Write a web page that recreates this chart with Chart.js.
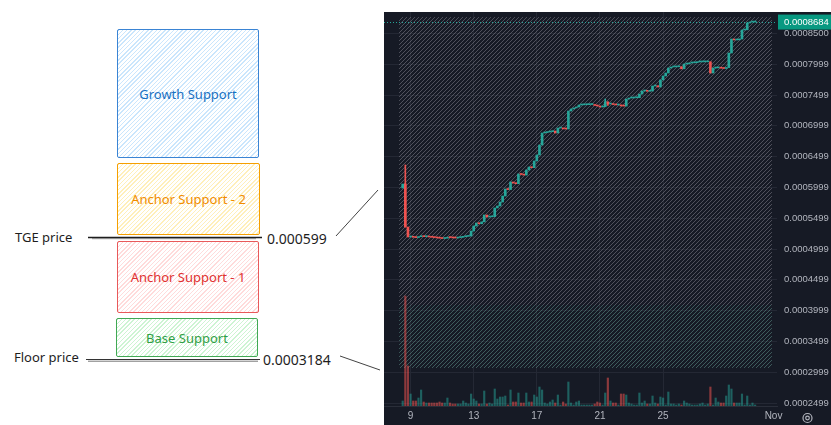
<!DOCTYPE html>
<html>
<head>
<meta charset="utf-8">
<script src="https://cdn.jsdelivr.net/npm/chart.js@4.4.1/dist/chart.umd.min.js"></script>
<style>
html,body{margin:0;padding:0;background:#fff;width:831px;height:425px;overflow:hidden;font-family:"Noto Sans",sans-serif;}
.box{position:absolute;box-sizing:border-box;border:1.6px solid;border-radius:2px;display:flex;align-items:center;justify-content:center;font-size:13px;}
.lbl{position:absolute;color:#1e1e1e;white-space:nowrap;line-height:18px;}
#lines{position:absolute;left:0;top:0;}
#wrap{position:absolute;left:384px;top:12px;width:447px;height:413px;background:#161a25;}
</style>
</head>
<body>
<div class="box" style="left:117px;top:29px;width:142px;height:129px;border-color:#3a84d4;color:#1971c2;
  background:repeating-linear-gradient(135deg,rgba(150,205,250,.5) 0 1px,transparent 1px 3px);">Growth Support</div>
<div class="box" style="left:117px;top:163px;width:143px;height:72px;border-color:#f59f00;color:#f08c00;
  background:repeating-linear-gradient(135deg,rgba(255,226,130,.55) 0 1px,transparent 1px 3px);">Anchor Support - 2</div>
<div class="box" style="left:117px;top:241px;width:142px;height:72px;border-color:#e8595a;color:#e03131;
  background:repeating-linear-gradient(135deg,rgba(255,190,190,.55) 0 1px,transparent 1px 3px);">Anchor Support - 1</div>
<div class="box" style="left:116px;top:318px;width:142px;height:39px;border-color:#40a853;color:#2f9e44;
  background:repeating-linear-gradient(135deg,rgba(165,235,175,.55) 0 1px,transparent 1px 3px);">Base Support</div>

<svg id="lines" width="384" height="425">
  <line x1="88" y1="237.5" x2="262" y2="237.5" stroke="#1e1e1e" stroke-width="1.3"/>
  <line x1="92" y1="238.7" x2="256" y2="238.7" stroke="#666" stroke-width="0.7"/>
  <line x1="86" y1="359.5" x2="260" y2="359.5" stroke="#333" stroke-width="1"/>
  <line x1="88" y1="361.2" x2="258" y2="361.2" stroke="#777" stroke-width="1"/>
  <line x1="336" y1="236" x2="378" y2="190" stroke="#444" stroke-width="1"/>
  <line x1="340" y1="356" x2="380" y2="370" stroke="#444" stroke-width="1"/>
</svg>
<div class="lbl" style="left:15px;top:228px;font-size:13px;">TGE price</div>
<div class="lbl" style="left:267px;top:230px;font-size:14px;">0.000599</div>
<div class="lbl" style="left:14px;top:348px;font-size:13px;">Floor price</div>
<div class="lbl" style="left:263px;top:351px;font-size:14px;">0.0003184</div>

<div id="wrap"><canvas id="tv" width="447" height="413"></canvas></div>

<script>
// prices are kept in units of 1e-7 (5195 -> 0.0005195)
const FIRST_BAR_DAY = 8.5;   // Oct 8 12:00
const BARS_PER_DAY = 6;      // 4h candles

const openE7 = [5990,6055,5357,5195,5205,5190,5185,5200,5215,5200,5205,5195,5190,5185,5180,5175,5170,5175,5190,5185,
  5180,5178,5185,5190,5200,5205,5210,5292,5373,5422,5410,5440,5552,5519,5522,5525,5666,5698,5763,5860,
  5974,5965,6088,6071,6060,6218,6210,6200,6283,6331,6320,6429,6526,6688,6883,6890,6899,6905,6916,6883,
  6964,6966,6950,6948,7240,7273,7290,7305,7338,7340,7342,7343,7345,7346,7330,7322,7305,7310,7386,7354,
  7358,7345,7338,7340,7322,7320,7435,7451,7452,7455,7456,7516,7565,7570,7560,7565,7646,7650,7630,7744,
  7809,7857,7938,7955,7956,7958,7960,7925,8003,8005,8020,8022,8025,8036,8037,8038,8038,8040,7857,7938,
  7940,7942,7935,7930,7945,8182,8409,8393,8395,8409,8555,8558,8669,8684,8684];
const closeE7 = [6055,5357,5195,5205,5190,5185,5200,5215,5200,5205,5195,5190,5185,5180,5175,5170,5175,5190,5185,5180,
  5178,5185,5190,5200,5205,5210,5292,5373,5422,5410,5440,5552,5519,5522,5525,5666,5698,5763,5860,5974,
  5965,6088,6071,6060,6218,6210,6200,6283,6331,6320,6429,6526,6688,6883,6890,6899,6905,6916,6883,6964,
  6966,6950,6948,7240,7273,7290,7305,7338,7340,7342,7343,7345,7346,7330,7322,7305,7310,7386,7354,7358,
  7345,7338,7340,7322,7320,7435,7451,7452,7455,7456,7516,7565,7570,7560,7565,7646,7650,7630,7744,7809,
  7857,7938,7955,7956,7958,7960,7925,8003,8005,8020,8022,8025,8036,8037,8038,8038,8040,7857,7938,7940,
  7942,7935,7930,7945,8182,8409,8393,8395,8409,8555,8558,8669,8684,8684,8684];
const volume = [5,110,40,12,5,5,8,16,4,3, 3,3,3,3,4,3,3,8,3,2, 2,2,2,5,3,2,12,7,5,2, 2,15,2,3,2,17,7,9,9,10,
  1,16,4,4,13,3,3,13,4,4, 11,9,19,16,3,2,4,6,3,11, 1,4,2,24,3,1,4,5,1,1, 1,1,1,2,4,3,1,13,28,5,
  3,3,1,12,12,11,3,2,1,1, 13,3,5,2,2,10,3,2,9,8, 1,14,2,2,1,2,1,5,3,2, 1,1,1,2,3,1,2,19,1,8,
  4,3,3,10,21,17,3,3,3,12, 1,10,1,3,1];
// candles with visible wicks
const wickIdx = [1, 77, 78];
const wickHighE7 = [6364, 7435, 7390];
const wickLowE7 = [5357, 7310, 7330];

const priceTicksE7 = [2499,2999,3499,3999,4499,4999,5499,5999,6499,6999,7499,7999,8500];
const dayTicks = [9,13,17,21,25,32];
const dayTickLabels = ['9','13','17','21','25','Nov'];
const lastPriceE7 = 8684;

// support zones shaded on the chart
const zoneLowE7 = [3068, 4091];
const zoneHighE7 = [4091, 8766];
const zoneFromDay = 8.27, zoneToDay = 31.9;

const UP = '#26a69a', DOWN = '#ef5350', GRID = '#242834', TXT = '#b2b5be';
const FONT = '"Liberation Sans", Arial, sans-serif';

const times = closeE7.map((_, i) => FIRST_BAR_DAY + i / BARS_PER_DAY);
const isUp = closeE7.map((c, i) => c >= openE7[i]);

function hatchPattern(ctx, color){
  const c = document.createElement('canvas'); c.width = 4; c.height = 4;
  const g = c.getContext('2d');
  g.strokeStyle = color; g.lineWidth = 1;
  g.beginPath();
  g.moveTo(0,4); g.lineTo(4,0);
  g.moveTo(-1,1); g.lineTo(1,-1);
  g.moveTo(3,5); g.lineTo(5,3);
  g.stroke();
  return ctx.createPattern(c, 'repeat');
}

const zonesPlugin = {
  id: 'zones',
  beforeDatasetsDraw(chart){
    const {ctx, chartArea:a, scales:{x, y}} = chart;
    const cols = ['rgba(110,170,160,0.45)', 'rgba(150,148,160,0.45)'];
    ctx.save();
    ctx.beginPath(); ctx.rect(a.left, a.top, a.right - a.left, a.bottom - a.top); ctx.clip();
    const x0 = x.getPixelForValue(zoneFromDay), x1 = x.getPixelForValue(zoneToDay);
    zoneLowE7.forEach((lo, i) => {
      const yTop = y.getPixelForValue(zoneHighE7[i]), yBot = y.getPixelForValue(lo);
      ctx.fillStyle = hatchPattern(ctx, cols[i]);
      ctx.fillRect(x0, yTop, x1 - x0, yBot - yTop);
    });
    // last price dotted line
    const py = Math.round(y.getPixelForValue(lastPriceE7)) + 0.5;
    ctx.strokeStyle = UP; ctx.lineWidth = 1; ctx.setLineDash([1,2]);
    ctx.beginPath(); ctx.moveTo(a.left, py); ctx.lineTo(a.right, py); ctx.stroke();
    ctx.restore();
  },
  afterDraw(chart){
    const {ctx, chartArea:a, scales:{y}} = chart;
    const py = y.getPixelForValue(lastPriceE7);
    ctx.save();
    ctx.fillStyle = '#089981';
    ctx.fillRect(a.right + 1, py - 7.5, chart.width - a.right - 1, 15);
    ctx.fillStyle = '#fff'; ctx.font = '9.5px ' + FONT;
    ctx.textBaseline = 'middle'; ctx.textAlign = 'left';
    ctx.fillText((lastPriceE7 / 1e7).toFixed(7), a.right + 7, py + 0.5);
    // settings icon
    const cx = chart.width - 23.5, cy = chart.height - 7;
    ctx.strokeStyle = TXT; ctx.lineWidth = 1.2;
    ctx.beginPath(); ctx.arc(cx, cy, 4.5, 0, Math.PI * 2); ctx.stroke();
    ctx.beginPath(); ctx.arc(cx, cy, 1.8, 0, Math.PI * 2); ctx.stroke();
    ctx.restore();
  }
};

// price axis: 1px = 16.234 (1e-7 units); chart area 394px tall
const Y_MIN = 2451.3, Y_MAX = 8847.5;
const X_MIN = 7.315, X_MAX = 32.22;

new Chart(document.getElementById('tv'), {
  type: 'bar',
  data: { datasets: [
    { label: 'candles', yAxisID: 'y', grouped: false, barThickness: 2, minBarLength: 1,
      data: times.map((t, i) => ({x: t, y: [openE7[i], closeE7[i]]})),
      backgroundColor: isUp.map(u => u ? UP : DOWN) },
    { label: 'wicks', yAxisID: 'y', grouped: false, barThickness: 1,
      data: wickIdx.map((k, j) => ({x: times[k], y: [wickLowE7[j], wickHighE7[j]]})),
      backgroundColor: wickIdx.map(k => isUp[k] ? UP : DOWN) },
    { label: 'volume', yAxisID: 'vol', grouped: false, barThickness: 1.5, minBarLength: 1,
      data: times.map((t, i) => ({x: t, y: volume[i]})),
      backgroundColor: isUp.map(u => u ? 'rgba(38,166,154,0.5)' : 'rgba(239,83,80,0.55)') }
  ]},
  options: {
    responsive: false, animation: false, events: [],
    layout: { padding: 0 },
    plugins: { legend: { display: false }, tooltip: { enabled: false } },
    scales: {
      x: { type: 'linear', min: X_MIN, max: X_MAX, offset: false,
        afterBuildTicks: s => { s.ticks = dayTicks.map(v => ({value: v})); },
        afterFit: s => { s.height = 19; s.paddingLeft = 0; s.paddingRight = 0; },
        grid: { color: c => (c.tick && c.tick.value === 32) ? 'rgba(0,0,0,0)' : GRID, drawTicks: false, offset: false },
        border: { display: true, color: '#2a2e39' },
        ticks: { color: TXT, font: { size: 10, family: FONT }, padding: 4, maxRotation: 0, autoSkip: false,
          callback: v => dayTickLabels[dayTicks.indexOf(v)] } },
      y: { position: 'right', min: Y_MIN, max: Y_MAX,
        afterBuildTicks: s => { s.ticks = priceTicksE7.map(v => ({value: v})); },
        afterFit: s => { s.width = 54; s.paddingTop = 0; s.paddingBottom = 0; },
        grid: { color: GRID, drawTicks: false },
        border: { display: false },
        ticks: { color: TXT, font: { size: 9.5, family: FONT }, padding: 7, autoSkip: false,
          callback: v => (v / 1e7).toFixed(7) } },
      vol: { display: false, min: 0, max: 394 }
    }
  },
  plugins: [zonesPlugin]
});
</script>
</body>
</html>
